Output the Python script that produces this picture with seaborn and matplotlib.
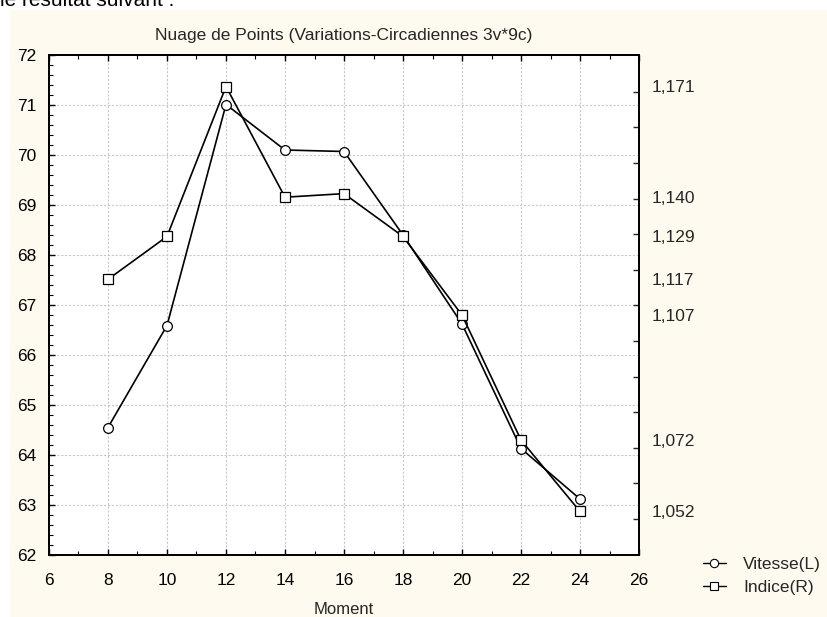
import matplotlib
matplotlib.use("Agg")
import matplotlib.pyplot as plt
from matplotlib.patches import Rectangle
from matplotlib.lines import Line2D
import numpy as np
import pandas as pd
import seaborn as sns

# Measurements across the day
moment = [8, 10, 12, 14, 16, 18, 20, 22, 24]
vitesse = [64.55, 66.59, 71.01, 70.10, 70.07, 68.40, 66.62, 64.13, 63.12]
indice = [1.117, 1.129, 1.171, 1.140, 1.141, 1.129, 1.107, 1.072, 1.052]

right_labels = [1.171, 1.140, 1.129, 1.117, 1.107, 1.072, 1.052]
x_major = [6, 8, 10, 12, 14, 16, 18, 20, 22, 24, 26]
y_major = [62, 63, 64, 65, 66, 67, 68, 69, 70, 71, 72]

df = pd.DataFrame({"Moment": moment, "Vitesse": vitesse, "Indice": indice})

sns.set_style("white")
plt.rcParams["font.family"] = ["Liberation Sans", "DejaVu Sans"]

W, H = 827, 617
fig = plt.figure(figsize=(W / 100, H / 100), dpi=100)
fig.patch.set_facecolor("white")
panel = "#FFFAEF"
fig.patches.append(Rectangle((10 / W, 0), 1 - 10 / W, 1 - 10 / H,
                             transform=fig.transFigure, facecolor=panel,
                             edgecolor="none", zorder=-10))
fig.text(0.0, 1 - 6 / H, "le résultat suivant :", fontsize=15,
         ha="left", va="baseline", color="black")

ax = fig.add_axes([49 / W, 1 - 555 / H, (639 - 49) / W, (555 - 55) / H])
ax.set_facecolor("white")
ax2 = ax.twinx()

line_kw = dict(color="black", linewidth=1.2, markersize=7,
               markerfacecolor="white", markeredgecolor="black",
               markeredgewidth=0.9)
sns.lineplot(data=df, x="Moment", y="Vitesse", ax=ax, marker="o",
             legend=False, **line_kw)
sns.lineplot(data=df, x="Moment", y="Indice", ax=ax2, marker="s",
             legend=False, **line_kw)

ax.set_xlim(6, 26)
ax.set_ylim(62, 72)
ax.set_xticks(x_major)
ax.set_xticks(np.arange(7, 26, 2), minor=True)
ax.set_yticks(y_major)
ax.set_yticks(np.arange(62, 72.01, 0.2), minor=True)
ax.grid(True, which="major", color="#c8c8c8", linestyle=(0, (2, 1.5)),
        linewidth=0.8)
ax.set_axisbelow(True)

ax.tick_params(axis="both", which="both", direction="in", colors="black",
               labelsize=12.5, top=True, bottom=True, left=True, right=False)
ax.tick_params(axis="both", which="major", length=4, width=1)
ax.tick_params(axis="both", which="minor", length=3, width=0.8)
ax.tick_params(axis="x", which="major", pad=13)
ax.tick_params(axis="y", which="major", pad=9)
ax.tick_params(axis="x", which="both", top=True, labeltop=False)

# right axis: scale tied to the left axis frame
ax2.set_ylim(1.171 - (555 - 86.5) / 3571, 1.171 + (86.5 - 55) / 3571)
ax2.set_yticks(right_labels)
ax2.set_yticklabels([f"{v:.3f}".replace(".", ",") for v in right_labels])
ax2.set_yticks(1.16954 - np.arange(13) * 0.00997, minor=True)
ax2.tick_params(axis="y", which="major", length=0, labelsize=12.5, pad=9)
ax2.tick_params(axis="y", which="minor", direction="in", length=4, width=1)
ax2.set_ylabel("")

for a in (ax, ax2):
    for s in a.spines.values():
        s.set_color("black")
        s.set_linewidth(1.3)

ax.set_xlabel("Moment", fontsize=12, labelpad=10)
ax.set_ylabel("")
ax.set_title("Nuage de Points (Variations-Circadiennes 3v*9c)", fontsize=12.5,
             pad=11)

handles = [
    Line2D([], [], color="black", linewidth=1, marker="o", markersize=6,
           markerfacecolor="white", markeredgecolor="black", markeredgewidth=0.8),
    Line2D([], [], color="black", linewidth=1, marker="s", markersize=6,
           markerfacecolor="white", markeredgecolor="black", markeredgewidth=0.8),
]
fig.legend(handles, ["Vitesse(L)", "Indice(R)"], loc="upper left",
           bbox_to_anchor=(703 / W, 1 - 557 / H), frameon=False, fontsize=12.5,
           handlelength=1.3, handletextpad=1.0, labelspacing=0.45,
           borderpad=0, borderaxespad=0)

fig.savefig("out.png", dpi=100, facecolor=fig.get_facecolor())
